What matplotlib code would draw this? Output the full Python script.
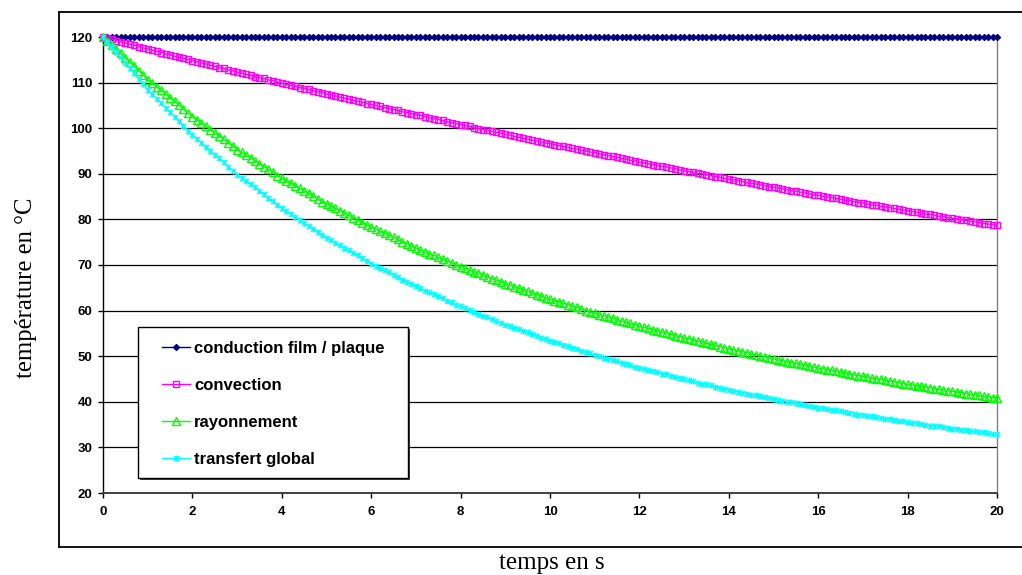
import numpy as np
import matplotlib
matplotlib.use("Agg")
import matplotlib.pyplot as plt
from matplotlib.path import Path
from matplotlib.lines import Line2D
from matplotlib.patches import Rectangle

# ---------------- data (one point every 0.1 s) ----------------
time_s = np.round(np.arange(201) * 0.1, 1)

conduction = [120.0] * 201

convection = [
    120.0, 119.7, 119.5, 119.2, 118.9, 118.7, 118.4, 118.2, 117.9, 117.6,
    117.4, 117.1, 116.9, 116.6, 116.3, 116.1, 115.8, 115.6, 115.3, 115.1,
    114.8, 114.6, 114.3, 114.1, 113.8, 113.6, 113.3, 113.1, 112.8, 112.6,
    112.3, 112.1, 111.8, 111.6, 111.3, 111.1, 110.9, 110.6, 110.4, 110.1,
    109.9, 109.6, 109.4, 109.2, 108.9, 108.7, 108.5, 108.2, 108.0, 107.8,
    107.5, 107.3, 107.1, 106.8, 106.6, 106.4, 106.1, 105.9, 105.7, 105.4,
    105.2, 105.0, 104.8, 104.5, 104.3, 104.1, 103.9, 103.6, 103.4, 103.2,
    103.0, 102.8, 102.5, 102.3, 102.1, 101.9, 101.7, 101.4, 101.2, 101.0,
    100.8, 100.6, 100.4, 100.1, 99.9, 99.7, 99.5, 99.3, 99.1, 98.9,
    98.7, 98.5, 98.2, 98.0, 97.8, 97.6, 97.4, 97.2, 97.0, 96.8,
    96.6, 96.4, 96.2, 96.0, 95.8, 95.6, 95.4, 95.2, 95.0, 94.8,
    94.6, 94.4, 94.2, 94.0, 93.8, 93.6, 93.4, 93.2, 93.0, 92.8,
    92.6, 92.4, 92.2, 92.0, 91.8, 91.7, 91.5, 91.3, 91.1, 90.9,
    90.7, 90.5, 90.3, 90.1, 90.0, 89.8, 89.6, 89.4, 89.2, 89.0,
    88.8, 88.7, 88.5, 88.3, 88.1, 87.9, 87.8, 87.6, 87.4, 87.2,
    87.0, 86.9, 86.7, 86.5, 86.3, 86.2, 86.0, 85.8, 85.6, 85.4,
    85.3, 85.1, 84.9, 84.8, 84.6, 84.4, 84.2, 84.1, 83.9, 83.7,
    83.6, 83.4, 83.2, 83.1, 82.9, 82.7, 82.6, 82.4, 82.2, 82.1,
    81.9, 81.7, 81.6, 81.4, 81.2, 81.1, 80.9, 80.7, 80.6, 80.4,
    80.3, 80.1, 79.9, 79.8, 79.6, 79.5, 79.3, 79.1, 79.0, 78.8,
    78.7,
]

rayonnement = [
    120.0, 119.1, 118.2, 117.3, 116.4, 115.5, 114.5, 113.6, 112.6, 111.6,
    110.6, 109.9, 109.1, 108.3, 107.5, 106.7, 105.9, 105.0, 104.2, 103.3,
    102.5, 101.8, 101.1, 100.4, 99.7, 99.0, 98.3, 97.6, 96.8, 96.1,
    95.3, 94.7, 94.1, 93.5, 92.9, 92.2, 91.6, 91.0, 90.3, 89.6,
    89.0, 88.4, 87.9, 87.4, 86.8, 86.2, 85.7, 85.1, 84.5, 83.9,
    83.4, 82.9, 82.4, 81.9, 81.4, 80.9, 80.4, 79.9, 79.3, 78.8,
    78.3, 77.9, 77.4, 77.0, 76.5, 76.1, 75.6, 75.1, 74.7, 74.2,
    73.7, 73.3, 72.9, 72.5, 72.1, 71.7, 71.3, 70.9, 70.5, 70.0,
    69.6, 69.3, 68.9, 68.5, 68.2, 67.8, 67.4, 67.0, 66.7, 66.3,
    65.9, 65.6, 65.2, 64.9, 64.6, 64.2, 63.9, 63.5, 63.2, 62.8,
    62.5, 62.2, 61.9, 61.6, 61.3, 61.0, 60.7, 60.4, 60.0, 59.7,
    59.4, 59.1, 58.9, 58.6, 58.3, 58.0, 57.7, 57.5, 57.2, 56.9,
    56.6, 56.3, 56.1, 55.8, 55.6, 55.3, 55.1, 54.8, 54.5, 54.3,
    54.0, 53.8, 53.5, 53.3, 53.1, 52.8, 52.6, 52.4, 52.1, 51.9,
    51.6, 51.4, 51.2, 51.0, 50.8, 50.5, 50.3, 50.1, 49.9, 49.7,
    49.4, 49.2, 49.0, 48.8, 48.6, 48.4, 48.2, 48.0, 47.8, 47.6,
    47.4, 47.2, 47.0, 46.9, 46.7, 46.5, 46.3, 46.1, 45.9, 45.7,
    45.6, 45.4, 45.2, 45.0, 44.9, 44.7, 44.5, 44.4, 44.2, 44.0,
    43.8, 43.7, 43.5, 43.4, 43.2, 43.1, 42.9, 42.7, 42.6, 42.4,
    42.3, 42.1, 42.0, 41.8, 41.7, 41.5, 41.4, 41.2, 41.1, 40.9,
    40.8,
]

transfert_global = [
    120.0, 118.9, 117.8, 116.7, 115.6, 114.4, 113.2, 112.0, 110.8, 109.6,
    108.3, 107.4, 106.5, 105.5, 104.5, 103.5, 102.5, 101.5, 100.5, 99.4,
    98.4, 97.6, 96.8, 95.9, 95.1, 94.2, 93.4, 92.5, 91.6, 90.7,
    89.8, 89.1, 88.4, 87.7, 87.0, 86.2, 85.5, 84.7, 84.0, 83.2,
    82.4, 81.8, 81.2, 80.6, 79.9, 79.3, 78.6, 78.0, 77.3, 76.6,
    76.0, 75.4, 74.9, 74.3, 73.8, 73.2, 72.6, 72.1, 71.5, 70.9,
    70.3, 69.8, 69.3, 68.8, 68.4, 67.9, 67.4, 66.8, 66.3, 65.8,
    65.3, 64.9, 64.4, 64.0, 63.6, 63.1, 62.7, 62.2, 61.8, 61.3,
    60.9, 60.5, 60.1, 59.7, 59.3, 58.9, 58.5, 58.1, 57.7, 57.3,
    56.9, 56.6, 56.2, 55.9, 55.6, 55.2, 54.9, 54.5, 54.1, 53.8,
    53.4, 53.1, 52.8, 52.5, 52.2, 51.9, 51.6, 51.2, 50.9, 50.6,
    50.3, 50.0, 49.7, 49.4, 49.2, 48.9, 48.6, 48.3, 48.0, 47.7,
    47.4, 47.2, 47.0, 46.7, 46.5, 46.2, 46.0, 45.7, 45.4, 45.2,
    44.9, 44.7, 44.5, 44.2, 44.0, 43.8, 43.6, 43.3, 43.1, 42.9,
    42.6, 42.4, 42.2, 42.0, 41.8, 41.6, 41.4, 41.2, 41.0, 40.8,
    40.6, 40.4, 40.2, 40.0, 39.9, 39.7, 39.5, 39.3, 39.1, 38.9,
    38.7, 38.6, 38.4, 38.2, 38.1, 37.9, 37.7, 37.6, 37.4, 37.2,
    37.0, 36.9, 36.8, 36.6, 36.5, 36.3, 36.2, 36.0, 35.8, 35.7,
    35.5, 35.4, 35.3, 35.1, 35.0, 34.8, 34.7, 34.6, 34.4, 34.3,
    34.1, 34.0, 33.9, 33.8, 33.6, 33.5, 33.4, 33.3, 33.1, 33.0,
    32.9,
]

series_labels = ["conduction film / plaque", "convection", "rayonnement", "transfert global"]
x_ticks = [0, 2, 4, 6, 8, 10, 12, 14, 16, 18, 20]
y_ticks = [20, 30, 40, 50, 60, 70, 80, 90, 100, 110, 120]
x_label = "temps en s"
y_label = "température en °C"

# ---------------- figure ----------------
W, H = 1022, 575
fig = plt.figure(figsize=(W / 100, H / 100), dpi=100)
fig.patch.set_facecolor("white")

def fx(px):
    return px / W

def fy(py):
    return 1 - py / H

ax_l, ax_r, ax_t, ax_b = 103, 997, 37, 493
ax = fig.add_axes([fx(ax_l), fy(ax_b), fx(ax_r - ax_l), (ax_b - ax_t) / H])
ax.set_xlim(0, 20)
ax.set_ylim(20, 120)

# star marker (x with vertical bar), Excel style
star = Path([(-1, -1), (1, 1), (-1, 1), (1, -1), (0, -1.2), (0, 1.2)],
            [Path.MOVETO, Path.LINETO, Path.MOVETO, Path.LINETO, Path.MOVETO, Path.LINETO])

styles = [
    dict(color="#000080", marker="D", ms=3.2, mfc="#000080", mec="#000080", mew=0.8),
    dict(color="#FF00FF", marker="s", ms=4.8, mfc="none", mec="#FF00FF", mew=1.0),
    dict(color="#00FF00", marker="^", ms=5.4, mfc="none", mec="#00FF00", mew=1.0),
    dict(color="#00FFFF", marker=star, ms=4.4, mfc="none", mec="#00FFFF", mew=1.0),
]
all_series = [conduction, convection, rayonnement, transfert_global]
handles = []
for vals, lab, st in zip(all_series, series_labels, styles):
    ln, = ax.plot(time_s, vals, lw=1.0, label=lab, clip_on=False, zorder=3, **st)
    handles.append(ln)

# grid + axes
ax.set_yticks(y_ticks)
ax.set_xticks(x_ticks)
ax.yaxis.grid(True, color="black", lw=0.9)
ax.set_axisbelow(True)
ax.spines["top"].set_visible(False)
ax.spines["right"].set_color("#808080")
ax.spines["right"].set_linewidth(1.0)
ax.spines["left"].set_color("black")
ax.spines["left"].set_linewidth(1.0)
ax.spines["bottom"].set_color("#404040")
ax.spines["bottom"].set_linewidth(1.4)

ax.tick_params(axis="both", direction="out", length=3.5, width=1.0, colors="black")
ax.tick_params(axis="y", pad=4)
ax.tick_params(axis="x", pad=6)
for lab in ax.get_xticklabels() + ax.get_yticklabels():
    lab.set_fontfamily("Liberation Sans")
    lab.set_fontweight("bold")
    lab.set_fontsize(9.5)

# axis titles (placed outside the chart frame, as in the reference)
fig.text(fx(552), fy(563), x_label, ha="center", va="center",
         fontfamily="Liberation Serif", fontsize=18)
fig.text(fx(26), fy(288), y_label, ha="center", va="center", rotation=90,
         fontfamily="Liberation Serif", fontsize=17.8)

# outer chart frame (open on the right, cut by the image edge)
fl, ft, fb = 59, 12, 547
frame_kw = dict(transform=fig.transFigure, color="black", lw=1.3, zorder=0)
fig.add_artist(Line2D([fx(fl), fx(fl)], [fy(fb), fy(ft)], **frame_kw))
fig.add_artist(Line2D([fx(fl), 1.0], [fy(ft), fy(ft)], **frame_kw))
fig.add_artist(Line2D([fx(fl), 1.0], [fy(fb), fy(fb)], **frame_kw))

# legend box with shadow
lb_l, lb_t, lb_r, lb_b = 138, 327, 408, 478
fig.add_artist(Rectangle((fx(lb_l + 2), fy(lb_b + 2)), fx(lb_r - lb_l), (lb_b - lb_t) / H,
                         transform=fig.transFigure, facecolor="#404040", edgecolor="none", zorder=4))
fig.add_artist(Rectangle((fx(lb_l), fy(lb_b)), fx(lb_r - lb_l), (lb_b - lb_t) / H,
                         transform=fig.transFigure, facecolor="white", edgecolor="black", lw=1.0, zorder=4.1))
leg = fig.legend(handles=handles, labels=series_labels, loc="upper left",
                 bbox_to_anchor=(fx(162), fy(341)), bbox_transform=fig.transFigure,
                 frameon=False, borderpad=0, borderaxespad=0, numpoints=1,
                 handlelength=1.68, handletextpad=0.25, labelspacing=1.32,
                 prop=dict(family="Liberation Sans", weight="bold", size=12))
leg.set_zorder(5)

fig.savefig("out.png", dpi=100)
